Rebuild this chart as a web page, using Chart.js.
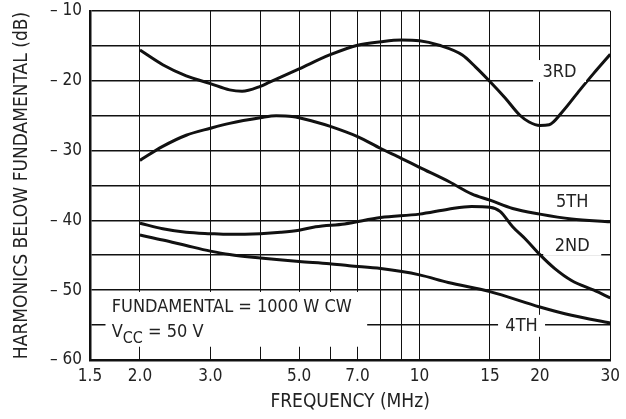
<!DOCTYPE html>
<html>
<head>
<meta charset="utf-8">
<script src="https://cdn.jsdelivr.net/npm/chart.js@4/dist/chart.umd.min.js"></script>
<style>
  html, body { margin: 0; padding: 0; background: #fff; }
  #wrap { width: 626px; height: 419px; }
</style>
</head>
<body>
<div id="wrap"><canvas id="harmonicsChart" width="626" height="419"></canvas></div>
<script>
// frequency (MHz) / harmonic level (dB below fundamental)
const freq3rd = [2.0, 2.28, 2.61, 3.0, 3.35, 3.6, 4.0, 4.22, 5.0, 5.96, 7.0, 8.0, 9.0, 10, 11.2, 12.8, 13.8, 15, 16.4, 17.8, 18.8, 20, 21.1, 22.8, 25.2, 27.3, 30];
const db3rd   = [-15.6, -17.7, -19.3, -20.4, -21.3, -21.5, -20.8, -20.2, -18.3, -16.3, -14.9, -14.4, -14.15, -14.25, -14.9, -16.3, -18.0, -20.1, -22.5, -24.9, -25.9, -26.4, -26.3, -24.4, -21.3, -18.9, -16.2];

const freq5th = [2.0, 2.28, 2.61, 3.0, 3.35, 4.0, 4.38, 4.8, 5.5, 5.96, 7.0, 8.0, 9.0, 10, 11.9, 13.5, 15, 17.1, 20, 24, 30];
const db5th   = [-31.4, -29.4, -27.8, -26.8, -26.1, -25.3, -25.0, -25.1, -25.9, -26.5, -28.0, -29.7, -31.1, -32.4, -34.5, -36.2, -37.1, -38.3, -39.1, -39.8, -40.2];

const freq2nd = [2.0, 2.28, 2.61, 3.0, 3.35, 4.0, 4.5, 5.0, 5.5, 6.5, 8.0, 10, 11.8, 13.5, 15, 15.9, 17.1, 18.5, 20, 21.8, 24, 27.3, 30];
const db2nd   = [-40.4, -41.2, -41.7, -41.9, -42.0, -41.9, -41.7, -41.4, -40.9, -40.5, -39.6, -39.1, -38.4, -38.0, -38.1, -38.7, -40.9, -42.8, -44.9, -46.9, -48.6, -50.0, -51.1];

const freq4th = [2.0, 2.28, 2.61, 3.0, 3.35, 4.0, 5.0, 5.96, 6.67, 8.0, 10, 11.8, 15, 20, 24, 30];
const db4th   = [-42.1, -42.8, -43.6, -44.4, -44.9, -45.4, -45.9, -46.2, -46.5, -46.9, -47.8, -48.9, -50.2, -52.4, -53.6, -54.7];

// axis ticks
const freqTicks = [1.5, 2, 3, 4, 5, 6, 7, 8, 9, 10, 15, 20, 30];
const freqLabels = { 1.5: '1.5', 2: '2.0', 3: '3.0', 5: '5.0', 7: '7.0', 10: '10', 15: '15', 20: '20', 30: '30' };
const dbTicks = [-60, -55, -50, -45, -40, -35, -30, -25, -20, -15, -10];

const FONT = "'Liberation Sans Narrow', 'Arial Narrow', 'DejaVu Sans Condensed', sans-serif";
const INK = '#222';

function toPoints(xs, ys) {
    return xs.map((x, i) => ({ x: x, y: ys[i] }));
}

function series(label, xs, ys) {
    return {
        label: label,
        data: toPoints(xs, ys),
        borderColor: '#111',
        borderWidth: 3,
        pointRadius: 0,
        fill: false,
        cubicInterpolationMode: 'monotone'
    };
}

// white-backed labels placed in data units
const curveNotes = [
    { text: '3RD', f: 22.4, db: -18.6, w: 53 },
    { text: '5TH', f: 24.1, db: -37.3, w: 44 },
    { text: '2ND', f: 24.1, db: -43.5, w: 58 },
    { text: '4TH', f: 18.0, db: -55.1, w: 47 }
];

const notesPlugin = {
    id: 'notes',
    afterDatasetsDraw(chart) {
        const ctx = chart.ctx;
        const xs = chart.scales.x, ys = chart.scales.y;
        ctx.save();
        ctx.font = '18px ' + FONT;
        ctx.textBaseline = 'middle';
        ctx.textAlign = 'center';

        curveNotes.forEach(n => {
            const px = xs.getPixelForValue(n.f);
            const py = ys.getPixelForValue(n.db);
            ctx.fillStyle = '#fff';
            ctx.fillRect(px - n.w / 2, py - 11, n.w, 22);
            ctx.fillStyle = INK;
            ctx.fillText(n.text, px, py + 1);
        });

        // conditions box
        const bx0 = xs.getPixelForValue(1.64), bx1 = xs.getPixelForValue(7.4);
        const by0 = ys.getPixelForValue(-50.25), by1 = ys.getPixelForValue(-58.1);
        ctx.fillStyle = '#fff';
        ctx.fillRect(bx0, by0, bx1 - bx0, by1 - by0);

        ctx.fillStyle = INK;
        ctx.textAlign = 'left';
        const tx = xs.getPixelForValue(1.7);
        ctx.fillText('FUNDAMENTAL = 1000 W CW', tx, ys.getPixelForValue(-52.4));
        const vy = ys.getPixelForValue(-56.1);
        ctx.fillText('V', tx, vy);
        let off = tx + ctx.measureText('V').width;
        ctx.font = '16px ' + FONT;
        ctx.fillText('CC', off, vy + 6);
        off += ctx.measureText('CC').width;
        ctx.font = '18px ' + FONT;
        ctx.fillText(' = 50 V', off, vy);
        ctx.restore();
    }
};

const ctx = document.getElementById('harmonicsChart').getContext('2d');
new Chart(ctx, {
    type: 'line',
    data: {
        datasets: [
            series('3RD', freq3rd, db3rd),
            series('5TH', freq5th, db5th),
            series('2ND', freq2nd, db2nd),
            series('4TH', freq4th, db4th)
        ]
    },
    options: {
        responsive: false,
        animation: false,
        layout: { padding: { top: 11, right: 14, left: 0, bottom: 0 } },
        plugins: { legend: { display: false }, tooltip: { enabled: false } },
        scales: {
            x: {
                type: 'logarithmic',
                min: 1.5,
                max: 30,
                afterBuildTicks: axis => { axis.ticks = freqTicks.map(v => ({ value: v })); },
                afterFit: axis => { axis.height = 59; },
                ticks: {
                    autoSkip: false,
                    maxRotation: 0,
                    padding: 6,
                    color: INK,
                    font: { family: FONT, size: 17 },
                    callback: v => freqLabels[v] || ''
                },
                grid: {
                    color: '#111',
                    lineWidth: 1,
                    drawTicks: false
                },
                border: { color: '#111', width: 2.5 },
                title: {
                    display: true,
                    text: 'FREQUENCY (MHz)',
                    color: INK,
                    font: { family: FONT, size: 19 },
                    padding: { top: 0, bottom: 6 }
                }
            },
            y: {
                min: -60,
                max: -10,
                afterBuildTicks: axis => { axis.ticks = dbTicks.map(v => ({ value: v })); },
                afterFit: axis => { axis.width = 90; },
                ticks: {
                    autoSkip: false,
                    padding: 8,
                    color: INK,
                    // small lineHeight keeps the top label from pushing the plot down
                    font: { family: FONT, size: 17, lineHeight: 0.3 },
                    callback: v => (v % 10 === 0 ? '\u2013 ' + Math.abs(v) : '')
                },
                grid: {
                    color: '#111',
                    lineWidth: 1.6,
                    drawTicks: false
                },
                border: { color: '#111', width: 2.5 },
                title: {
                    display: true,
                    text: 'HARMONICS BELOW FUNDAMENTAL (dB)',
                    color: INK,
                    font: { family: FONT, size: 19 },
                    padding: { top: 11, bottom: 4 }
                }
            }
        }
    },
    plugins: [notesPlugin]
});
</script>
</body>
</html>
